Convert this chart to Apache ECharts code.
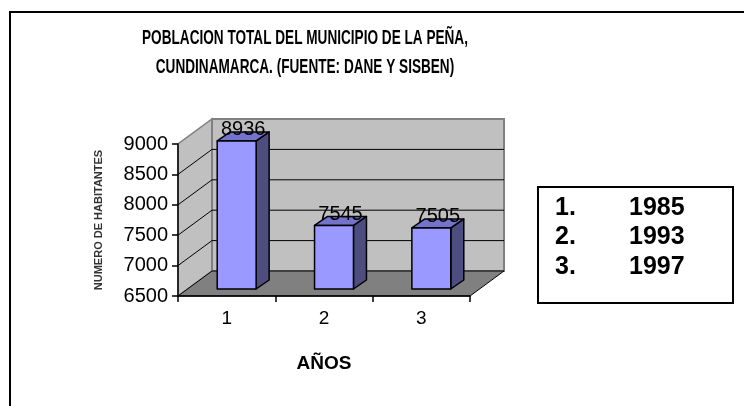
<!DOCTYPE html>
<html>
<head>
<meta charset="utf-8">
<script src="https://cdn.jsdelivr.net/npm/echarts@6/dist/echarts.min.js"></script>
<style>
html,body{margin:0;padding:0;background:#fff;}
#chart{width:744px;height:406px;}
</style>
</head>
<body>
<div id="chart"></div>
<script>
const categories = ['1', '2', '3'];
const population = [8936, 7545, 7505];
const yTicks = [6500, 7000, 7500, 8000, 8500, 9000];
const legendNums = ['1.', '2.', '3.'];
const legendYears = ['1985', '1993', '1997'];
const titleLines = ['POBLACION TOTAL DEL MUNICIPIO DE LA PEÑA,', 'CUNDINAMARCA. (FUENTE: DANE Y SISBEN)'];
const yName = 'NUMERO DE HABITANTES';
const xName = 'AÑOS';

const FONT = 'Arial, "Liberation Sans", sans-serif';
const chart = echarts.init(document.getElementById('chart'), null, {renderer: 'canvas'});

// 3D wall depth
const WDX = 34, WDY = -25;
// bar position inside depth and bar own depth
const SHX = 10, SHY = -7, BDX = 13, BDY = -9;

function renderWalls(params, api) {
  const cs = params.coordSys;
  const x0 = cs.x, x1 = cs.x + cs.width;
  const yb = api.coord([0, yTicks[0]])[1];
  const yt = api.coord([0, yTicks[yTicks.length - 1]])[1];
  const children = [
    {type: 'polygon', shape: {points: [[x0, yt], [x0, yb], [x0 + WDX, yb + WDY], [x0 + WDX, yt + WDY]]},
      style: {fill: '#c0c0c0', stroke: '#808080', lineWidth: 1.5}},
    {type: 'polygon', shape: {points: [[x0 + WDX, yt + WDY], [x1 + WDX, yt + WDY], [x1 + WDX, yb + WDY], [x0 + WDX, yb + WDY]]},
      style: {fill: '#c0c0c0', stroke: '#808080', lineWidth: 2}},
    {type: 'polygon', shape: {points: [[x0, yb], [x1, yb], [x1 + WDX, yb + WDY], [x0 + WDX, yb + WDY]]},
      style: {fill: '#808080', stroke: '#000', lineWidth: 1}}
  ];
  yTicks.slice(1, -1).forEach(function (v) {
    const y = api.coord([0, v])[1];
    children.push({type: 'polyline', shape: {points: [[x0, y], [x0 + WDX, y + WDY], [x1 + WDX, y + WDY]]},
      style: {stroke: '#000', lineWidth: 1, fill: null}});
  });
  return {type: 'group', children: children};
}

function renderBars(params, api) {
  const i = api.value(0), v = api.value(1);
  const p = api.coord([i, v]);
  const base = api.coord([i, yTicks[0]]);
  const w = api.size([1, 0])[0] * 0.4;
  const xl = p[0] - w / 2 + SHX, xr = xl + w;
  const yt = p[1] + SHY, yb = base[1] + SHY;
  const line = {stroke: '#000', lineWidth: 1.5, lineJoin: 'round'};
  return {type: 'group', children: [
    {type: 'polygon', shape: {points: [[xr, yt], [xr, yb], [xr + BDX, yb + BDY], [xr + BDX, yt + BDY]]},
      style: Object.assign({fill: '#4d4d80'}, line)},
    {type: 'polygon', shape: {points: [[xl, yt], [xr, yt], [xr + BDX, yt + BDY], [xl + BDX, yt + BDY]]},
      style: Object.assign({fill: '#7373cc'}, line)},
    {type: 'rect', shape: {x: xl, y: yt, width: w, height: yb - yt},
      style: Object.assign({fill: '#9999ff'}, line)},
    {type: 'text', style: {text: String(v), x: (xl + xr) / 2 + BDX / 2, y: yt + BDY - 2,
      align: 'center', verticalAlign: 'middle', font: '20px ' + FONT, fill: '#000'}}
  ]};
}

const legendChildren = [
  {type: 'rect', shape: {x: 538, y: 187, width: 195, height: 116},
    style: {fill: '#fff', stroke: '#000', lineWidth: 2}}
];
legendNums.forEach(function (n, k) {
  const y = 208 + k * 29.5;
  legendChildren.push({type: 'text', style: {text: n, x: 555, y: y, verticalAlign: 'middle',
    font: 'bold 25px ' + FONT, fill: '#000'}});
  legendChildren.push({type: 'text', style: {text: legendYears[k], x: 629, y: y, verticalAlign: 'middle',
    font: 'bold 25px ' + FONT, fill: '#000'}});
});

const option = {
  animation: false,
  backgroundColor: '#fff',
  grid: {left: 178, right: 274, top: 144, bottom: 110, containLabel: false},
  xAxis: {
    type: 'category', data: categories, z: 5,
    name: xName, nameLocation: 'middle', nameGap: 58,
    nameTextStyle: {fontFamily: FONT, fontSize: 19, fontWeight: 'bold', color: '#000'},
    axisLine: {lineStyle: {color: '#000', width: 1.5}},
    axisTick: {show: true, length: 6, lineStyle: {color: '#000', width: 1.5}},
    axisLabel: {color: '#000', fontFamily: FONT, fontSize: 19, margin: 13},
    splitLine: {show: false}
  },
  yAxis: {
    type: 'value', min: yTicks[0], max: yTicks[yTicks.length - 1], interval: yTicks[1] - yTicks[0], z: 5,
    name: yName, nameLocation: 'middle', nameGap: 74, nameRotate: 90,
    nameTextStyle: {fontFamily: FONT, fontSize: 11, fontWeight: 'bold', color: '#333'},
    axisLine: {show: true, lineStyle: {color: '#000', width: 1.5}},
    axisTick: {show: true, length: 6, lineStyle: {color: '#000', width: 1.5}},
    axisLabel: {color: '#000', fontFamily: FONT, fontSize: 20, margin: 10,
      formatter: function (v) { return String(v); }},
    splitLine: {show: false}
  },
  series: [
    {type: 'custom', z: 1, renderItem: renderWalls, data: [[0, yTicks[0]]], silent: true},
    {type: 'custom', z: 3, renderItem: renderBars,
      data: population.map(function (v, i) { return [i, v]; })}
  ],
  graphic: [
    {type: 'polyline', shape: {points: [[10, 420], [10, 12], [760, 12]]},
      style: {stroke: '#000', lineWidth: 2, fill: null}},
    {type: 'text', x: 305, y: 38, scaleX: 0.68,
      style: {text: titleLines[0], x: 0, y: 0, align: 'center', verticalAlign: 'middle',
      font: 'bold 20px ' + FONT, fill: '#000'}},
    {type: 'text', x: 305, y: 67, scaleX: 0.68,
      style: {text: titleLines[1], x: 0, y: 0, align: 'center', verticalAlign: 'middle',
      font: 'bold 20px ' + FONT, fill: '#000'}},
    {type: 'group', children: legendChildren}
  ]
};
chart.setOption(option);
</script>
</body>
</html>
